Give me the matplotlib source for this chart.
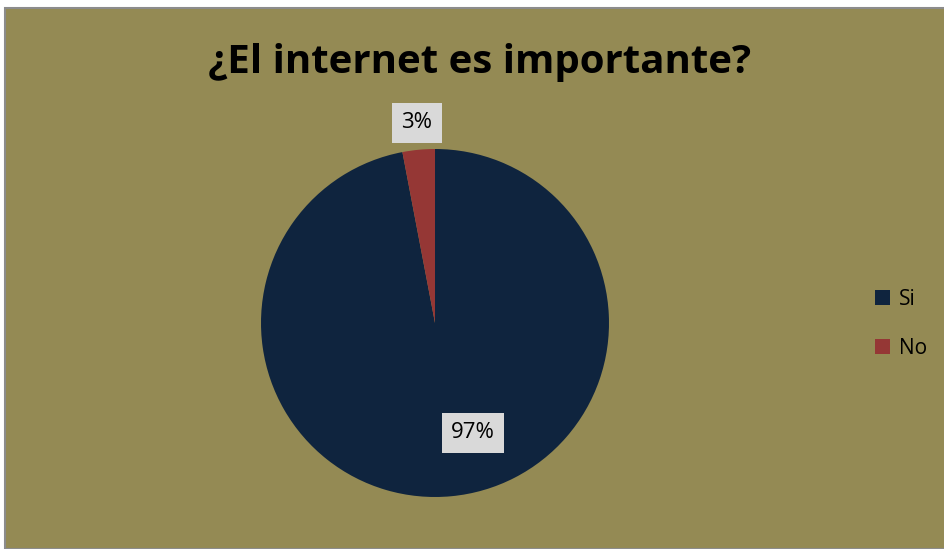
import matplotlib.pyplot as plt
from matplotlib.patches import Rectangle

W, H = 945, 549

# data
categories = ['Si', 'No']
values = [97, 3]
labels = ['97%', '3%']
colors = ['#0F243E', '#953735']

plt.rcParams['font.family'] = ['Open Sans', 'DejaVu Sans']

fig = plt.figure(figsize=(W / 100, H / 100), dpi=100)
fig.patch.set_facecolor('white')

# chart area background with thin grey border
fig.patches.append(Rectangle((5 / W, 0), (W - 5) / W, (H - 8) / H,
                             transform=fig.transFigure, facecolor='#948A54',
                             edgecolor='#8C8C8C', linewidth=1.5, zorder=-5))

fig.text(480 / W, 1 - 62 / H, '¿El internet es importante?', ha='center',
         va='center', fontsize=29, fontweight='bold', color='black')

# pie axes: center (435, 323), radius 174 px
cx, cy, r = 435, 323, 174
ax = fig.add_axes([(cx - r) / W, 1 - (cy + r) / H, 2 * r / W, 2 * r / H])
ax.set_zorder(2)
wedges, _ = ax.pie(values, colors=colors, startangle=90, counterclock=False,
                   radius=1.0)
ax.set_xlim(-1, 1)
ax.set_ylim(-1, 1)
ax.set_aspect('auto')
ax.axis('off')

box = dict(boxstyle='square,pad=0.42', facecolor='#D9D9D9', edgecolor='none')
label_pos = [(473, 433), (417, 123)]
for lab, (px, py) in zip(labels, label_pos):
    t = fig.text(px / W, 1 - py / H, lab, ha='center', va='center',
                 fontsize=16, color='black', bbox=box)
    t.set_zorder(5)

leg = fig.legend(wedges, categories, loc='center left',
                 bbox_to_anchor=(856 / W, 1 - 324 / H), frameon=False,
                 fontsize=15, handlelength=0.75, handleheight=0.75,
                 handletextpad=0.4, labelspacing=1.35)

fig.savefig('out.png', dpi=100, facecolor=fig.get_facecolor())
